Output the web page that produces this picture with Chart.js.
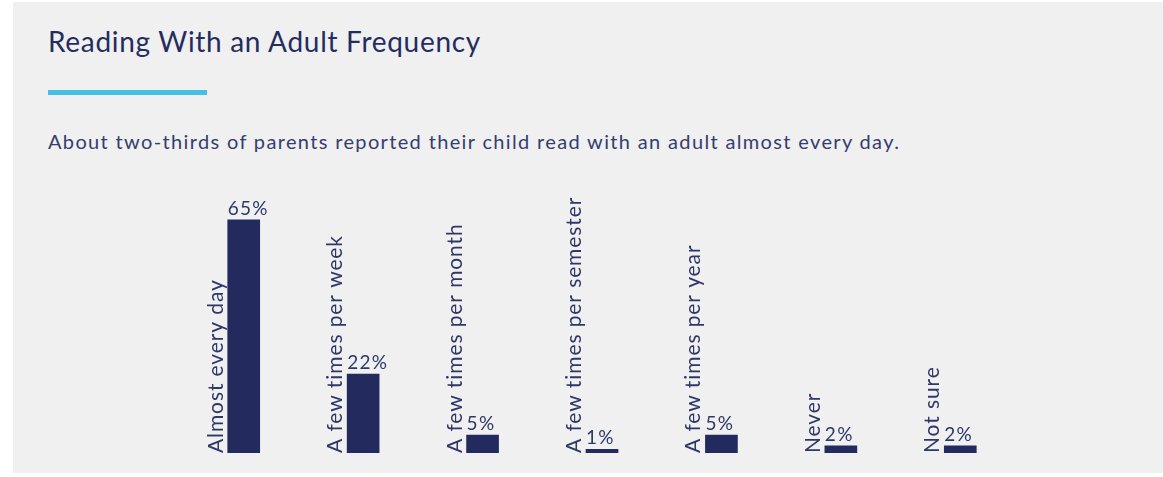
<!DOCTYPE html>
<html>
<head>
<meta charset="utf-8">
<script src="https://cdn.jsdelivr.net/npm/chart.js@4"></script>
<style>
    body { margin: 0; background: #ffffff; font-family: Lato, sans-serif; }
    #panel { position: absolute; left: 13px; top: 2px; width: 1150px; height: 471px; background: #f0f0f0; }
    #title { position: absolute; left: 48px; top: 27px; font-size: 28px; line-height: 28px; color: #252c5f; letter-spacing: 0.7px; white-space: nowrap; }
    #rule { position: absolute; left: 48px; top: 90px; width: 159px; height: 5px; background: #45c0e3; }
    #subtitle { position: absolute; left: 48px; top: 131px; font-size: 20px; line-height: 20px; color: #353d70; letter-spacing: 1.35px; white-space: nowrap; }
    #wrap { position: absolute; left: 0; top: 190px; width: 1163px; height: 283px; }
</style>
</head>
<body>
<div id="panel"></div>
<div id="title">Reading With an Adult Frequency</div>
<div id="rule"></div>
<div id="subtitle">About two-thirds of parents reported their child read with an adult almost every day.</div>
<div id="wrap"><canvas id="myChart"></canvas></div>
<script>
const Categories = ['Almost every day', 'A few times per week', 'A few times per month', 'A few times per semester', 'A few times per year', 'Never', 'Not sure'];
const Percent = [65, 22, 5, 1, 5, 2, 2];
const YMax = 70;

const BarLabels = {
    id: 'barLabels',
    afterDatasetsDraw(chart) {
        const ctx = chart.ctx;
        const meta = chart.getDatasetMeta(0);
        ctx.save();
        ctx.fillStyle = '#2f3768';
        meta.data.forEach((bar, i) => {
            const left = bar.x - bar.width / 2;
            // category name, rotated, standing on the baseline left of the bar
            ctx.save();
            ctx.font = '21px Lato';
            ctx.letterSpacing = '0.9px';
            ctx.translate(left - 5, bar.base);
            ctx.rotate(-Math.PI / 2);
            ctx.textAlign = 'left';
            ctx.textBaseline = 'alphabetic';
            ctx.fillText(Categories[i], 0, 0);
            ctx.restore();
            // value
            ctx.font = '19px Lato';
            ctx.letterSpacing = '1.3px';
            ctx.textAlign = 'left';
            ctx.textBaseline = 'alphabetic';
            ctx.fillText(Percent[i] + '%', left, bar.y - 5);
        });
        ctx.restore();
    }
};

const ctx = document.getElementById('myChart').getContext('2d');
const myChart = new Chart(ctx, {
    type: 'bar',
    data: {
        labels: Categories,
        datasets: [{
            data: Percent,
            backgroundColor: '#232a5e',
            barThickness: 32
        }]
    },
    options: {
        responsive: true,
        maintainAspectRatio: false,
        animation: false,
        layout: { padding: { left: 184, right: 143, top: 12, bottom: 20 } },
        plugins: { legend: { display: false }, tooltip: { enabled: false } },
        scales: {
            x: { display: false },
            y: { display: false, min: 0, max: YMax }
        }
    },
    plugins: [BarLabels]
});
</script>
</body>
</html>
